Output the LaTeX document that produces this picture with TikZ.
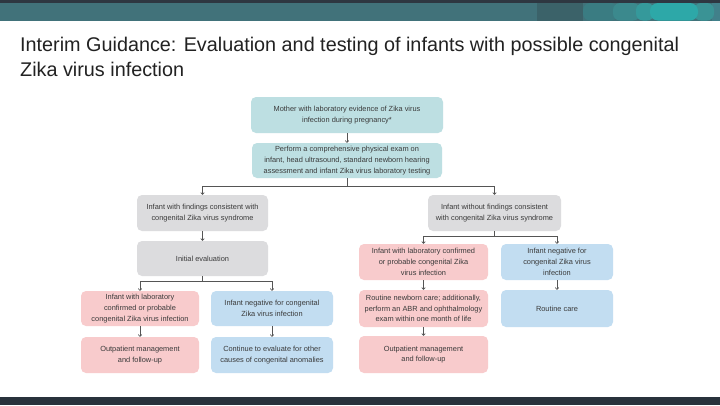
\documentclass[tikz,border=0pt]{standalone}
\usepackage{fontspec}
\setmainfont{Liberation Sans}
\usetikzlibrary{arrows.meta}
\definecolor{txt}{HTML}{3A3A3A}
\definecolor{titlec}{HTML}{222222}
\definecolor{tealbox}{HTML}{BDDFE2}
\definecolor{graybox}{HTML}{DCDCDE}
\definecolor{pinkbox}{HTML}{F8CBCC}
\definecolor{bluebox}{HTML}{C2DDF1}
\definecolor{linec}{HTML}{555555}
\definecolor{bardark}{HTML}{2E3741}
\definecolor{barteal}{HTML}{41727A}
\definecolor{bardeep}{HTML}{3B6269}
\definecolor{barc1}{HTML}{3A7C82}
\definecolor{barc2}{HTML}{3B898D}
\definecolor{barc3}{HTML}{35999B}
\definecolor{barc4}{HTML}{2DA8A8}
\definecolor{barc5}{HTML}{3A9395}
\definecolor{barc6}{HTML}{41808A}
\definecolor{bottombar}{HTML}{29323C}
\tikzset{
  box/.style={rounded corners=5pt, align=center, inner sep=1pt, text=txt,
    font=\fontsize{7.4}{10.8}\selectfont},
  tealb/.style={box, fill=tealbox},
  grayb/.style={box, fill=graybox},
  pinkb/.style={box, fill=pinkbox},
  blueb/.style={box, fill=bluebox},
  conn/.style={draw=linec, line width=0.6pt},
  arr/.style={conn, -{To[length=2.5pt,width=4pt]}},
}
\begin{document}
\begin{tikzpicture}[x=1pt,y=-1pt]
\useasboundingbox (0,0) rectangle (720,405);
\fill[white] (0,0) rectangle (720,405);
% header bar
\fill[barteal] (0,3) rectangle (720,20.5);
\begin{scope}
\clip (0,3) rectangle (720,20.5);
\fill[bardeep] (537,3) rectangle (583,20.5);
\fill[barc1, rounded corners=7pt] (583,3) rectangle (618,20.5);
\fill[barc2, rounded corners=7pt] (613,3) rectangle (640,20.5);
\fill[barc6] (712,3) rectangle (720,20.5);
\fill[barc5, rounded corners=7pt] (694,3) rectangle (714,20.5);
\fill[barc3, rounded corners=7pt] (636,3) rectangle (654,20.5);
\fill[barc4, rounded corners=8pt] (650,3) rectangle (698,20.5);
\end{scope}
\fill[bardark] (0,0) rectangle (720,3);
% bottom bar
\fill[bottombar] (0,397) rectangle (720,405);
% title
\node[anchor=base west, inner sep=0pt, text=titlec, font=\fontsize{19.8}{25}\selectfont] (t1) at (20,51) {Interim Guidance: Evaluation and testing of infants with possible congenital};
\node[anchor=base west, inner sep=0pt, text=titlec, font=\fontsize{19.8}{25}\selectfont] (t2) at (20,76) {Zika virus infection};
% boxes
\node[tealb, minimum width=192pt, minimum height=36pt] (mother) at (347,115) {Mother with laboratory evidence of Zika virus\\infection during pregnancy*};
\node[tealb, minimum width=190pt, minimum height=35pt] (perform) at (347,160.5) {Perform a comprehensive physical exam on\\infant, head ultrasound, standard newborn hearing\\assessment and infant Zika virus laboratory testing};
\node[grayb, minimum width=131pt, minimum height=36pt] (leftA) at (202.5,213) {Infant with findings consistent with\\congenital Zika virus syndrome};
\node[grayb, minimum width=131pt, minimum height=35pt] (initeval) at (202.5,258.5) {Initial evaluation};
\node[grayb, minimum width=133pt, minimum height=36pt] (rightA) at (494.5,213) {Infant without findings consistent\\with congenital Zika virus syndrome};
\node[pinkb, minimum width=129pt, minimum height=36pt] (pinkR1) at (423.5,262) {Infant with laboratory confirmed\\or probable congenital Zika\\virus infection};
\node[blueb, minimum width=112pt, minimum height=36pt] (blueR1) at (557,262) {Infant negative for\\congenital Zika virus\\infection};
\node[pinkb, minimum width=129pt, minimum height=37pt] (pinkR2) at (423.5,308.5) {Routine newborn care; additionally,\\perform an ABR and ophthalmology\\exam within one month of life};
\node[blueb, minimum width=112pt, minimum height=37pt] (blueR2) at (557,308.5) {Routine care};
\node[pinkb, minimum width=129pt, minimum height=37pt] (pinkR3) at (423.5,354.5) {Outpatient management\\and follow-up};
\node[pinkb, minimum width=118pt, minimum height=35pt] (pinkL1) at (140,308.5) {Infant with laboratory\\confirmed or probable\\congenital Zika virus infection};
\node[blueb, minimum width=122pt, minimum height=35pt] (blueL1) at (272,308.5) {Infant negative for congenital\\Zika virus infection};
\node[pinkb, minimum width=118pt, minimum height=36pt] (pinkL2) at (140,355) {Outpatient management\\and follow-up};
\node[blueb, minimum width=122pt, minimum height=36pt] (blueL2) at (272,355) {Continue to evaluate for other\\causes of congenital anomalies};
% branch points
\coordinate (b1) at (347,186);
\coordinate (b2) at (202.5,281);
\coordinate (b3) at (494.5,236);
% connectors
\draw[arr] (mother) -- (perform);
\draw[conn] (perform.south) -- (b1);
\draw[arr] (b1) -| (leftA.north);
\draw[arr] (b1) -| (rightA.north);
\draw[arr] (leftA) -- (initeval);
\draw[conn] (initeval.south) -- (b2);
\draw[arr] (b2) -| (pinkL1.north);
\draw[arr] (b2) -| (blueL1.north);
\draw[arr] (pinkL1) -- (pinkL2);
\draw[arr] (blueL1) -- (blueL2);
\draw[conn] (rightA.south) -- (b3);
\draw[arr] (b3) -| (pinkR1.north);
\draw[arr] (b3) -| (blueR1.north);
\draw[arr] (pinkR1) -- (pinkR2);
\draw[arr] (pinkR2) -- (pinkR3);
\draw[arr] (blueR1) -- (blueR2);
\end{tikzpicture}
\end{document}
